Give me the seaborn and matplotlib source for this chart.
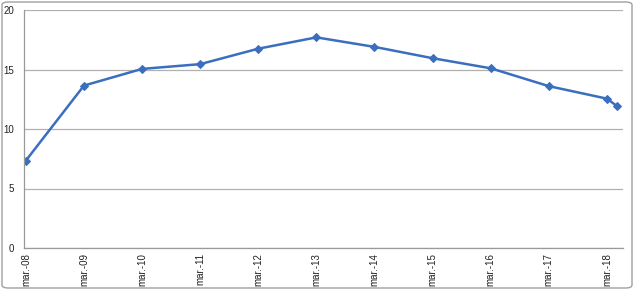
import matplotlib
matplotlib.use("Agg")
import matplotlib.pyplot as plt
from matplotlib.patches import FancyBboxPatch
import seaborn as sns
import pandas as pd

dates = ["2008-03-01", "2009-03-01", "2010-03-01", "2011-03-01", "2012-03-01",
         "2013-03-01", "2014-03-01", "2015-03-01", "2016-03-01", "2017-03-01",
         "2018-03-01", "2018-05-01"]
values = [7.35, 13.65, 15.05, 15.45, 16.75, 17.7, 16.9, 15.95, 15.1, 13.6, 12.55, 11.95]
tick_dates = ["2008-03-01", "2009-03-01", "2010-03-01", "2011-03-01", "2012-03-01",
              "2013-03-01", "2014-03-01", "2015-03-01", "2016-03-01", "2017-03-01",
              "2018-03-01"]
tick_labels = ["mar.-08", "mar.-09", "mar.-10", "mar.-11", "mar.-12", "mar.-13",
               "mar.-14", "mar.-15", "mar.-16", "mar.-17", "mar.-18"]
y_ticks = [0, 5, 10, 15, 20]

df = pd.DataFrame({"date": pd.to_datetime(dates), "value": values})

sns.set_style("white")
plt.rcParams['font.family'] = ['Liberation Sans', 'DejaVu Sans']

fig = plt.figure(figsize=(6.34, 2.90), dpi=100)
ax = fig.add_axes([24/634, 1-248/290, (623-24)/634, (248-10)/290])

sns.lineplot(data=df, x="date", y="value", ax=ax, color="#3a6fbf", linewidth=1.8,
             marker="D", markersize=4, markeredgecolor="#3a6fbf")

ax.set_ylim(0, 20)
ax.set_yticks(y_ticks)
ax.set_xlim(pd.Timestamp("2008-02-18"), pd.Timestamp("2018-06-10"))
ax.set_xticks(pd.to_datetime(tick_dates))
ax.set_xticklabels(tick_labels, rotation=90, fontsize=7, color="#222222")
ax.tick_params(axis="y", labelsize=7, colors="#222222", length=3, color="#999999", pad=4)
ax.tick_params(axis="x", length=2, color="#999999", pad=1.5)
ax.yaxis.grid(True, color="#b0b0b0", linewidth=0.9)
ax.set_axisbelow(True)
for s in ["top", "right"]:
    ax.spines[s].set_visible(False)
for s in ["left", "bottom"]:
    ax.spines[s].set_color("#999999")
    ax.spines[s].set_linewidth(0.9)
ax.set_xlabel("")
ax.set_ylabel("")

border = FancyBboxPatch((2/634, 2/290), 630/634, 286/290,
                        boxstyle="round,pad=0,rounding_size=0.01",
                        transform=fig.transFigure, fill=False,
                        edgecolor="#a0a0a0", linewidth=1.0)
fig.patches.append(border)

fig.savefig("out.png", dpi=100)
